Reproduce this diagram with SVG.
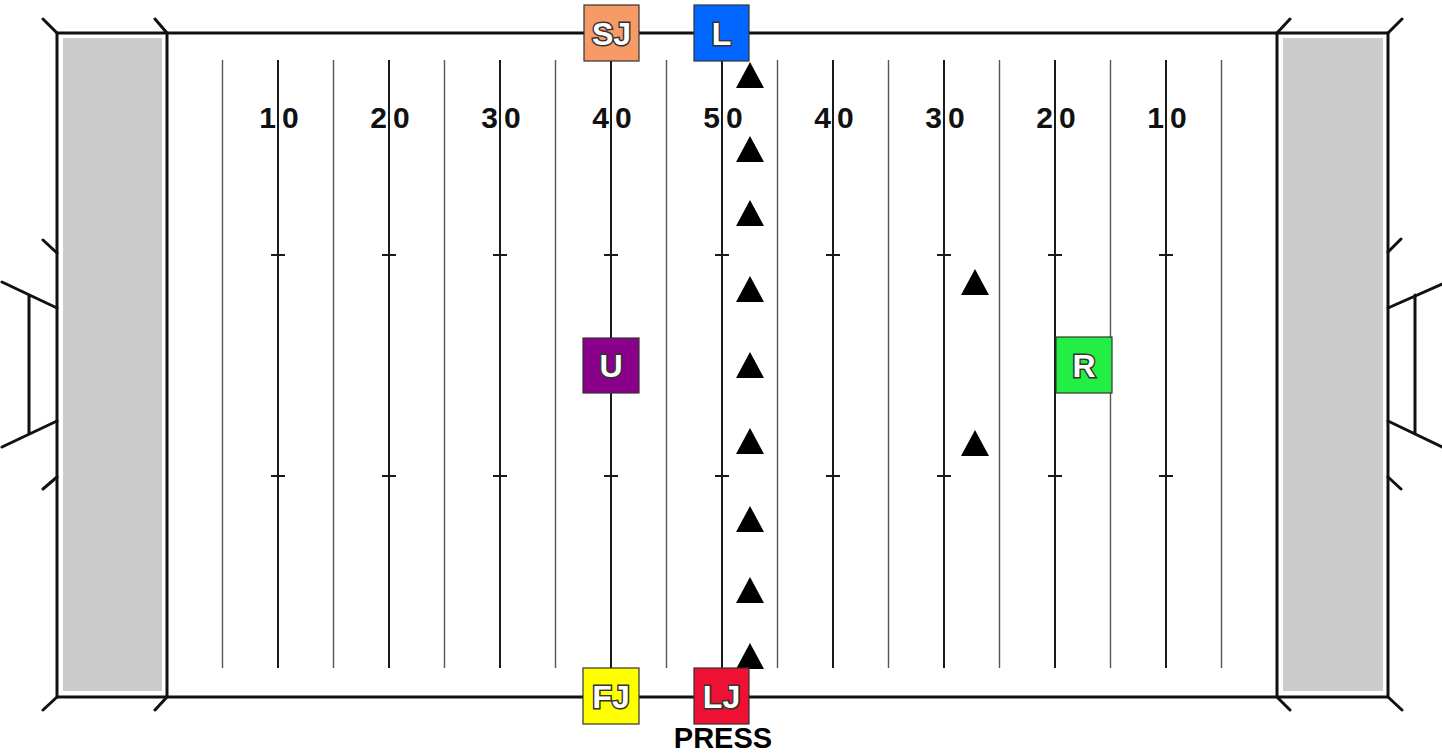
<svg xmlns="http://www.w3.org/2000/svg" width="1442" height="754" viewBox="0 0 1442 754">
<style>
.bnd{stroke:#111;stroke-width:3;fill:none;stroke-linecap:round}
.ez{fill:#cccccc}
.y10{stroke:#1a1a1a;stroke-width:2}
.y5{stroke:#555;stroke-width:1.4}
.hash{stroke:#1a1a1a;stroke-width:2}
.num{font-family:"Liberation Sans",Arial,sans-serif;font-weight:bold;font-size:30px;fill:#111}
.box{stroke:#333;stroke-width:1.2}
.lbl{font-family:"Liberation Sans",Arial,sans-serif;font-weight:bold;font-size:32px;fill:#fff;stroke:#333;stroke-width:3;paint-order:stroke;text-anchor:middle}
.tri{fill:#000}
.press{font-family:"Liberation Sans",Arial,sans-serif;font-weight:bold;font-size:29px;fill:#000;text-anchor:middle}
</style>
<rect width="1442" height="754" fill="#fff"/>
<g id="field">
<rect class="ez" x="63" y="38" width="99" height="653"/>
<rect class="ez" x="1283" y="38" width="100" height="653"/>
<g id="yardlines">
<line class="y5" x1="222.5" y1="60" x2="222.5" y2="668"/>
<line class="y10" x1="278" y1="60" x2="278" y2="668"/>
<line class="y5" x1="333.5" y1="60" x2="333.5" y2="668"/>
<line class="y10" x1="389" y1="60" x2="389" y2="668"/>
<line class="y5" x1="444.5" y1="60" x2="444.5" y2="668"/>
<line class="y10" x1="500" y1="60" x2="500" y2="668"/>
<line class="y5" x1="555.5" y1="60" x2="555.5" y2="668"/>
<line class="y10" x1="611" y1="60" x2="611" y2="668"/>
<line class="y5" x1="666.5" y1="60" x2="666.5" y2="668"/>
<line class="y10" x1="722" y1="60" x2="722" y2="668"/>
<line class="y5" x1="777.5" y1="60" x2="777.5" y2="668"/>
<line class="y10" x1="833" y1="60" x2="833" y2="668"/>
<line class="y5" x1="888.5" y1="60" x2="888.5" y2="668"/>
<line class="y10" x1="944" y1="60" x2="944" y2="668"/>
<line class="y5" x1="999.5" y1="60" x2="999.5" y2="668"/>
<line class="y10" x1="1055" y1="60" x2="1055" y2="668"/>
<line class="y5" x1="1110.5" y1="60" x2="1110.5" y2="668"/>
<line class="y10" x1="1166" y1="60" x2="1166" y2="668"/>
<line class="y5" x1="1221.5" y1="60" x2="1221.5" y2="668"/>
</g>
<g id="hashes">
<path class="hash" d="M271 255h14M382 255h14M493 255h14M604 255h14M715 255h14M826 255h14M937 255h14M1048 255h14M1159 255h14M271 476h14M382 476h14M493 476h14M604 476h14M715 476h14M826 476h14M937 476h14M1048 476h14M1159 476h14"/>
</g>
<g id="numbers" class="num">
<text x="276" y="128" text-anchor="end">1</text><text x="282" y="128">0</text>
<text x="387" y="128" text-anchor="end">2</text><text x="393" y="128">0</text>
<text x="498" y="128" text-anchor="end">3</text><text x="504" y="128">0</text>
<text x="609" y="128" text-anchor="end">4</text><text x="615" y="128">0</text>
<text x="720" y="128" text-anchor="end">5</text><text x="726" y="128">0</text>
<text x="831" y="128" text-anchor="end">4</text><text x="837" y="128">0</text>
<text x="942" y="128" text-anchor="end">3</text><text x="948" y="128">0</text>
<text x="1053" y="128" text-anchor="end">2</text><text x="1059" y="128">0</text>
<text x="1164" y="128" text-anchor="end">1</text><text x="1170" y="128">0</text>
</g>
<g id="boundary">
<path class="bnd" d="M57 33H1388M57 697H1388M57 33V697M167 33V697M1277 33V697M1388 33V697"/>
<path class="bnd" d="M57 33L43 19M167 33L155 19M57 697L43 710M167 697L155 710M1277 33L1290 19M1388 33L1402 19M1277 697L1290 710M1388 697L1402 710"/>
</g>
<g id="goalpost-left">
<path class="bnd" d="M57 253L43 240M57 477L43 489M57 308L2 282M57 421L2 447M29 295V434"/>
</g>
<g id="goalpost-right">
<path class="bnd" d="M1388 252L1401 239M1388 477L1401 489M1388 308L1442 284M1388 421L1442 447M1415 295V434"/>
</g>
</g>
<g id="connectors"></g>
<g id="players">
<path class="tri" d="M750 62L764 88H736Z"/>
<path class="tri" d="M750 136L764 162H736Z"/>
<path class="tri" d="M750 200L764 226H736Z"/>
<path class="tri" d="M750 276L764 302H736Z"/>
<path class="tri" d="M750 352L764 378H736Z"/>
<path class="tri" d="M750 428L764 454H736Z"/>
<path class="tri" d="M750 506L764 532H736Z"/>
<path class="tri" d="M750 577L764 603H736Z"/>
<path class="tri" d="M750 643L764 669H736Z"/>
<path class="tri" d="M975 269L989 295H961Z"/>
<path class="tri" d="M975 430L989 456H961Z"/>
</g>
<g id="SJ"><rect class="box" x="584" y="5" width="55" height="56" fill="#f69a66"/><text class="lbl" x="611.5" y="45">SJ</text></g>
<g id="L"><rect class="box" x="694" y="5" width="55" height="56" fill="#0066ff"/><text class="lbl" x="721.5" y="45">L</text></g>
<g id="U"><rect class="box" x="583" y="338" width="56" height="55" fill="#8b008b"/><text class="lbl" x="611" y="377">U</text></g>
<g id="R"><rect class="box" x="1056" y="337" width="56" height="56" fill="#22ee44"/><text class="lbl" x="1084" y="377">R</text></g>
<g id="FJ"><rect class="box" x="583" y="668" width="56" height="56" fill="#ffff00"/><text class="lbl" x="611" y="708">FJ</text></g>
<g id="LJ"><rect class="box" x="694" y="668" width="55" height="56" fill="#ee1133"/><text class="lbl" x="721.5" y="708">LJ</text></g>
<text id="PRESS" class="press" x="723" y="748">PRESS</text>
</svg>
